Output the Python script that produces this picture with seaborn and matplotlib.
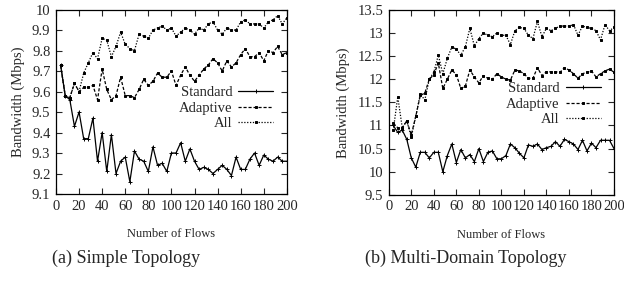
import numpy as np
import pandas as pd
import matplotlib
matplotlib.use("Agg")
import matplotlib.pyplot as plt
import seaborn as sns

sns.set_style("ticks")
plt.rcParams['font.family'] = ['Liberation Serif', 'DejaVu Serif']

# number of flows (x axis), shared by both panels
flows = list(range(4, 201, 4))

# (a) simple topology
simple_standard = [9.73, 9.58, 9.56, 9.43, 9.50, 9.37, 9.37, 9.47, 9.26, 9.40,
                   9.21, 9.39, 9.20, 9.26, 9.28, 9.16, 9.31, 9.27, 9.26, 9.21,
                   9.33, 9.24, 9.25, 9.21, 9.30, 9.30, 9.35, 9.26, 9.32, 9.26,
                   9.22, 9.23, 9.22, 9.20, 9.22, 9.24, 9.22, 9.19, 9.28, 9.22,
                   9.22, 9.27, 9.30, 9.24, 9.29, 9.27, 9.26, 9.28, 9.26, 9.26]
simple_adaptive = [9.73, 9.58, 9.57, 9.64, 9.60, 9.62, 9.62, 9.63, 9.56, 9.71,
                   9.61, 9.56, 9.58, 9.67, 9.58, 9.58, 9.57, 9.61, 9.66, 9.63,
                   9.65, 9.69, 9.67, 9.67, 9.70, 9.63, 9.68, 9.72, 9.68, 9.65,
                   9.68, 9.71, 9.73, 9.76, 9.74, 9.70, 9.75, 9.72, 9.74, 9.78,
                   9.81, 9.77, 9.77, 9.79, 9.75, 9.80, 9.79, 9.82, 9.78, 9.79]
simple_all = [9.73, 9.58, 9.57, 9.64, 9.60, 9.69, 9.74, 9.79, 9.76, 9.86,
              9.85, 9.77, 9.82, 9.89, 9.83, 9.81, 9.80, 9.88, 9.87, 9.86,
              9.90, 9.91, 9.92, 9.90, 9.91, 9.87, 9.89, 9.91, 9.90, 9.88,
              9.91, 9.90, 9.93, 9.94, 9.90, 9.88, 9.91, 9.90, 9.90, 9.94,
              9.95, 9.93, 9.93, 9.93, 9.91, 9.94, 9.95, 9.97, 9.93, 9.96]

# (b) multi-domain topology
multi_standard = [11.0, 10.85, 10.9, 10.7, 10.3, 10.1, 10.42, 10.42, 10.3, 10.42,
                  10.42, 10.0, 10.35, 10.6, 10.2, 10.48, 10.3, 10.37, 10.22, 10.5,
                  10.22, 10.42, 10.45, 10.28, 10.28, 10.35, 10.6, 10.52, 10.4, 10.3,
                  10.58, 10.55, 10.6, 10.48, 10.52, 10.55, 10.65, 10.55, 10.7, 10.65,
                  10.6, 10.48, 10.68, 10.45, 10.62, 10.52, 10.68, 10.68, 10.68, 10.5]
multi_adaptive = [11.05, 10.95, 10.95, 11.1, 10.8, 11.2, 11.65, 11.7, 12.0, 12.1,
                  12.35, 11.8, 12.0, 12.2, 12.1, 11.8, 11.85, 12.2, 12.05, 11.92,
                  12.08, 12.02, 12.0, 12.12, 12.05, 12.0, 11.98, 12.2, 12.18, 12.12,
                  12.02, 12.02, 12.25, 12.08, 12.16, 12.16, 12.16, 12.15, 12.25, 12.2,
                  12.12, 12.02, 12.12, 12.15, 12.18, 12.05, 12.12, 12.18, 12.22, 12.15]
multi_all = [10.9, 11.62, 10.95, 11.1, 10.75, 11.2, 11.68, 11.55, 12.0, 12.15,
             12.52, 12.12, 12.45, 12.7, 12.65, 12.52, 12.7, 13.1, 12.72, 12.88,
             13.0, 12.95, 12.92, 13.0, 12.95, 12.95, 12.75, 13.05, 13.12, 13.1,
             12.95, 12.88, 13.25, 12.92, 13.1, 13.05, 13.1, 13.15, 13.15, 13.15,
             13.18, 12.95, 13.15, 13.12, 13.1, 13.05, 12.85, 13.18, 13.05, 13.12]

x_ticks = list(range(0, 201, 20))
simple_yticks = [9.1, 9.2, 9.3, 9.4, 9.5, 9.6, 9.7, 9.8, 9.9, 10]
simple_ylabels = ['9.1', '9.2', '9.3', '9.4', '9.5', '9.6', '9.7', '9.8', '9.9', '10']
multi_yticks = [9.5, 10, 10.5, 11, 11.5, 12, 12.5, 13, 13.5]
multi_ylabels = ['9.5', '10', '10.5', '11', '11.5', '12', '12.5', '13', '13.5']

styles = {
    'Standard': dict(linestyle='-', marker='+', markersize=2.5),
    'Adaptive': dict(linestyle=(0, (2.5, 1.5)), marker='s', markersize=1.6),
    'All': dict(linestyle=(0, (1, 1.3)), marker='s', markersize=1.6),
}

fig = plt.figure(figsize=(6.24, 2.9), dpi=100)
ax1 = fig.add_axes([0.0897, 0.331, 0.370, 0.636])
ax2 = fig.add_axes([0.623, 0.328, 0.361, 0.638])


def draw(ax, series, yticks, ylabels, ylim, leg_anchor, caption, cap_x):
    for name, vals in series:
        df = pd.DataFrame({'flows': flows, 'bw': vals})
        sns.lineplot(data=df, x='flows', y='bw', ax=ax, color='black',
                     linewidth=0.9, label=name, markeredgecolor='black',
                     markerfacecolor='black', markeredgewidth=0.7,
                     **styles[name])
    ax.set_xlim(0, 200)
    ax.set_ylim(*ylim)
    ax.set_xticks(x_ticks)
    ax.set_yticks(yticks)
    ax.set_yticklabels(ylabels)
    ax.tick_params(direction='in', top=True, right=True, length=4, width=0.8,
                   labelsize=10.5, pad=4)
    for sp in ax.spines.values():
        sp.set_linewidth(0.9)
        sp.set_color('black')
    ax.set_xlabel('Number of Flows', fontsize=9, labelpad=11)
    ax.set_ylabel('Bandwidth (Mbps)', fontsize=10.5, labelpad=5)
    ax.legend(loc='upper right', bbox_to_anchor=leg_anchor, frameon=False,
              markerfirst=False, fontsize=10.5, handlelength=2.4,
              handletextpad=0.4, labelspacing=0.15, borderpad=0,
              borderaxespad=0)
    fig.text(cap_x, 0.11, caption, ha='center', va='center', fontsize=13)


draw(ax1, [('Standard', simple_standard), ('Adaptive', simple_adaptive),
           ('All', simple_all)],
     simple_yticks, simple_ylabels, (9.1, 10), (0.94, 0.585),
     '(a) Simple Topology', 0.202)
draw(ax2, [('Standard', multi_standard), ('Adaptive', multi_adaptive),
           ('All', multi_all)],
     multi_yticks, multi_ylabels, (9.5, 13.5), (0.94, 0.61),
     '(b) Multi-Domain Topology', 0.747)

fig.savefig('out.png', dpi=100)
